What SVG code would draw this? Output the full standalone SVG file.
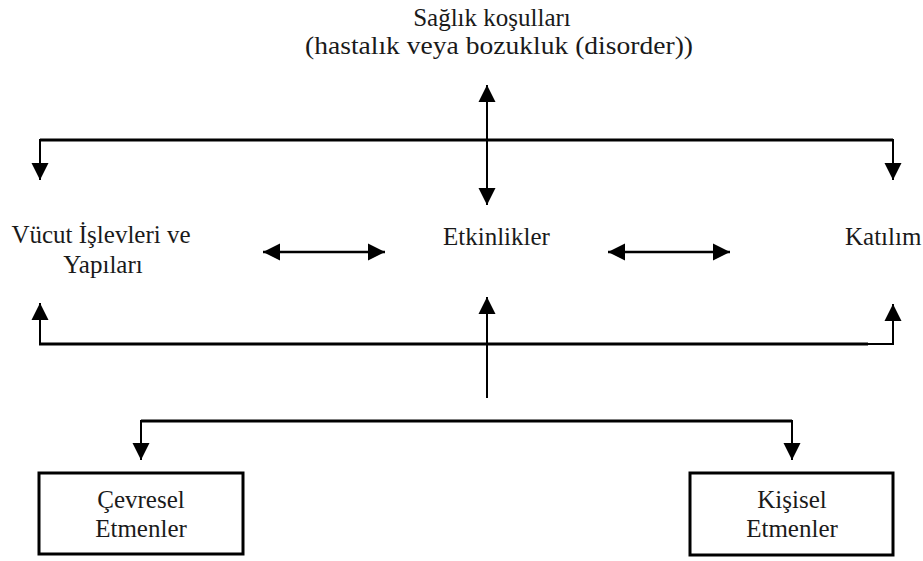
<svg xmlns="http://www.w3.org/2000/svg" width="923" height="561" viewBox="0 0 923 561">
<style>
text{font-family:'Liberation Serif','Times New Roman',serif;font-size:25px;fill:#1a1a1a}
.c{text-anchor:middle}
.h{stroke:#000;stroke-width:3;fill:none}
.v{stroke:#000;stroke-width:2;fill:none}
.box{fill:#fff;stroke:#000;stroke-width:3}
</style>
<defs>
<marker id="ah" markerUnits="userSpaceOnUse" markerWidth="18" markerHeight="18" refX="17" refY="8.5" orient="auto-start-reverse" viewBox="0 0 18 17">
<path d="M0,0 L17,8.5 L0,17 z" fill="#000"/>
</marker>
</defs>
<rect width="923" height="561" fill="#fff"/>
<g id="connectors">
<path class="h" d="M40,140 L893,140"/>
<path class="v" d="M40,139 L40,180" marker-end="url(#ah)"/>
<path class="v" d="M893,139 L893,180" marker-end="url(#ah)"/>
<path class="v" d="M487,85 L487,205" marker-start="url(#ah)" marker-end="url(#ah)"/>
<path class="h" d="M263,252 L385,252" marker-start="url(#ah)" marker-end="url(#ah)" style="stroke-width:2.5"/>
<path class="h" d="M608,252 L730,252" marker-start="url(#ah)" marker-end="url(#ah)" style="stroke-width:2.5"/>
<path class="h" d="M39,344 L868,344"/>
<path class="v" d="M868,344 L893,344"/>
<path class="v" d="M40,345 L40,303" marker-end="url(#ah)"/>
<path class="v" d="M893,345 L893,304" marker-end="url(#ah)"/>
<path class="v" d="M487,398 L487,297" marker-end="url(#ah)"/>
<path class="h" d="M141,421 L792,421"/>
<path class="v" d="M141,420 L141,460" marker-end="url(#ah)"/>
<path class="v" d="M792,420 L792,460" marker-end="url(#ah)"/>
</g>
<g id="saglik">
<text class="c" x="492" y="26">Sağlık koşulları</text>
<text class="c" x="499" y="54" textLength="388" lengthAdjust="spacingAndGlyphs" style="font-size:26px">(hastalık veya bozukluk (disorder))</text>
</g>
<g id="vucut">
<text class="c" x="101" y="243">Vücut İşlevleri ve</text>
<text class="c" x="103" y="273">Yapıları</text>
</g>
<g id="etkinlikler">
<text x="443" y="245">Etkinlikler</text>
</g>
<g id="katilim">
<text x="845" y="245">Katılım</text>
</g>
<g id="cevresel">
<rect class="box" x="39" y="473" width="204" height="81"/>
<text class="c" x="141" y="508">Çevresel</text>
<text class="c" x="141" y="537">Etmenler</text>
</g>
<g id="kisisel">
<rect class="box" x="690" y="473" width="203" height="82"/>
<text class="c" x="792" y="508">Kişisel</text>
<text class="c" x="792" y="537">Etmenler</text>
</g>
</svg>
